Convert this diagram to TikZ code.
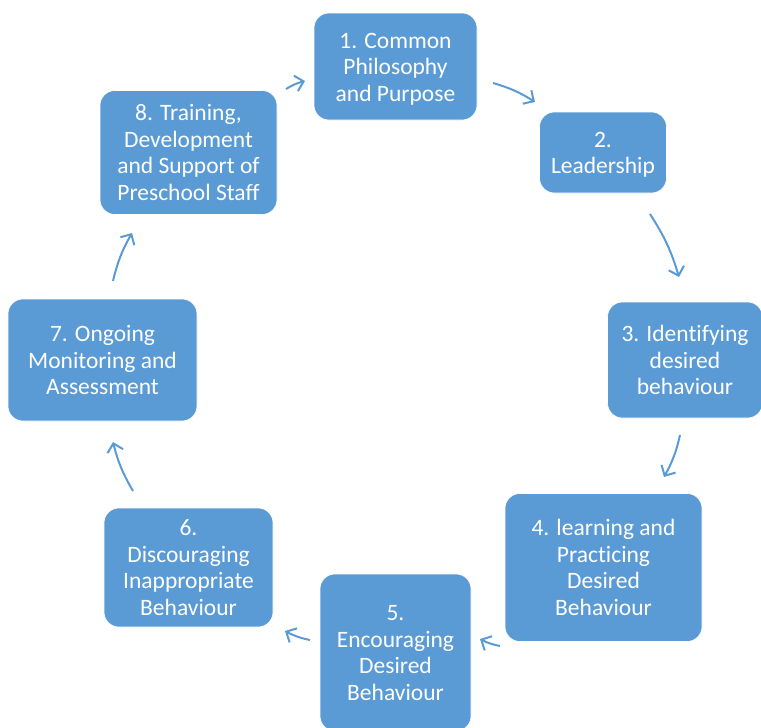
\documentclass[tikz,border=0pt]{standalone}
\usepackage{fontspec}
\setmainfont{Carlito}[Ligatures={NoCommon}]
\usetikzlibrary{arrows.meta}
\definecolor{boxblue}{HTML}{5B9BD5}
\newcommand{\tstr}{\rule{0pt}{23pt}}
\newcommand{\bstr}{\rule[-7pt]{0pt}{7pt}}
\tikzset{
  stepbox/.style={rectangle, rounded corners=15pt, fill=boxblue, draw=white, line width=0.6pt,
    text=white, align=center, font=\fontsize{23.5}{26.5}\selectfont, inner sep=0pt},
  cyc/.style={draw=boxblue, line width=2pt, -{Straight Barb[length=8pt,width=16pt,line width=2pt]}, bend left=8}
}
\begin{document}
\begin{tikzpicture}[x=1pt,y=-1pt]
\useasboundingbox (0,0) rectangle (761,728);
\begin{scope}
\clip (0,0) rectangle (761,728);
\node[stepbox, minimum width=163pt, minimum height=107pt] (n1) at (395.5,66.5) {\tstr 1. Common\\Philosophy\\and Purpose\bstr};
\node[stepbox, minimum width=127pt, minimum height=81pt] (n2) at (603,152.5) {\tstr 2.\\Leadership\bstr};
\node[stepbox, minimum width=155pt, minimum height=116pt] (n3) at (685,360) {\tstr 3. Identifying\\desired\\behaviour\bstr};
\node[stepbox, minimum width=197pt, minimum height=148pt] (n4) at (603.5,567.5) {\tstr 4. learning and\\Practicing\\Desired\\Behaviour\bstr};
\node[stepbox, minimum width=151pt, minimum height=157pt] (n5) at (395.5,652.5) {\tstr 5.\\Encouraging\\Desired\\Behaviour\bstr};
\node[stepbox, minimum width=169pt, minimum height=119pt] (n6) at (188.5,567.5) {\tstr 6.\\Discouraging\\Inappropriate\\Behaviour\bstr};
\node[stepbox, minimum width=189pt, minimum height=122pt] (n7) at (102.5,360) {\tstr 7. Ongoing\\Monitoring and\\Assessment\bstr};
\node[stepbox, minimum width=177pt, minimum height=124pt] (n8) at (188.5,152.5) {\tstr 8. Training,\\Development\\and Support of\\Preschool Staff\bstr};
\end{scope}
\coordinate (a81) at (286,89);
\coordinate (b81) at (305,81);
\coordinate (a12) at (493,83);
\coordinate (b12) at (535,102);
\coordinate (a23) at (650,214);
\coordinate (b23) at (679,277);
\coordinate (a34) at (680,435);
\coordinate (b34) at (664,477);
\coordinate (a45) at (500,646);
\coordinate (b45) at (480,639);
\coordinate (a56) at (310,640);
\coordinate (b56) at (285,631);
\coordinate (a67) at (133,491);
\coordinate (b67) at (113,442);
\coordinate (a78) at (113,281);
\coordinate (b78) at (132,233);
\draw[cyc] (a81) to (b81);
\draw[cyc] (a12) to (b12);
\draw[cyc] (a23) to (b23);
\draw[cyc] (a34) to (b34);
\draw[cyc] (a45) to (b45);
\draw[cyc] (a56) to (b56);
\draw[cyc] (a67) to (b67);
\draw[cyc] (a78) to (b78);
\end{tikzpicture}
\end{document}
